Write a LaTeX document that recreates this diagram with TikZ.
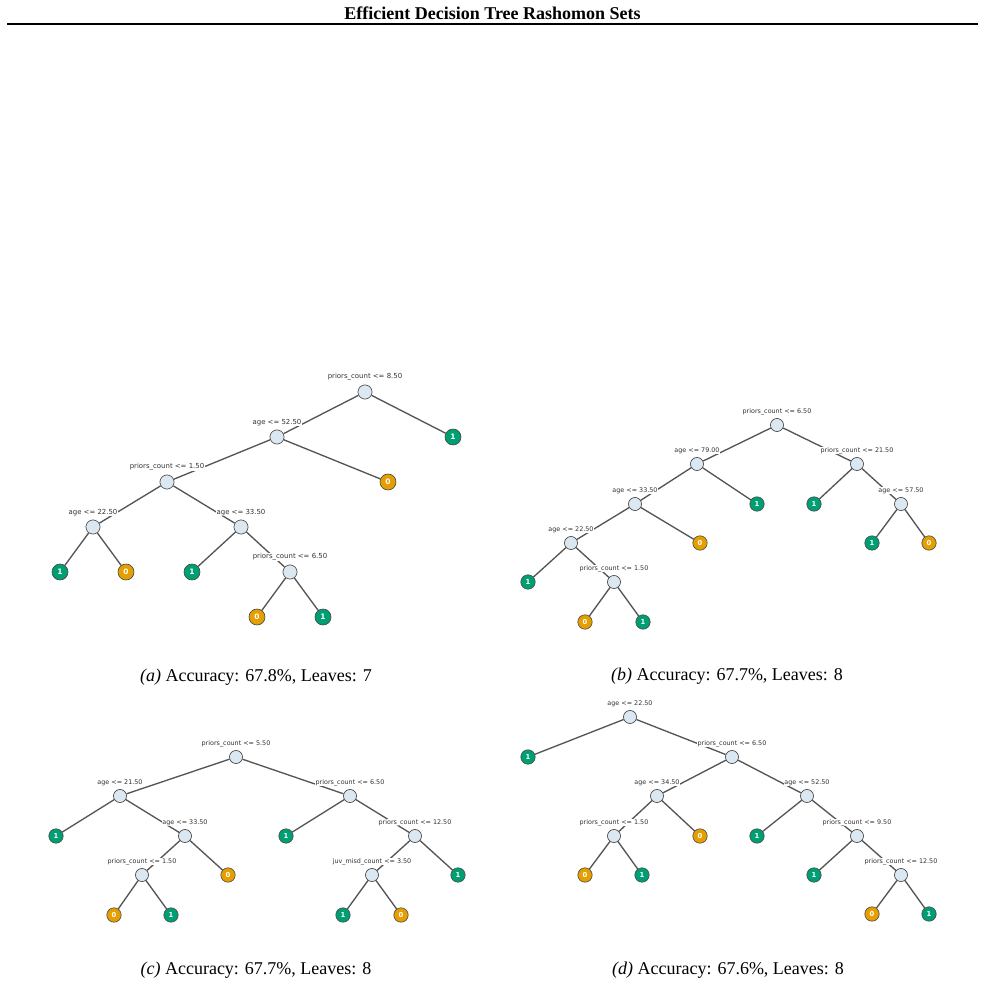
\documentclass[tikz,border=0pt]{standalone}
\usepackage{fontspec}
\setmainfont{Liberation Serif}
\newfontfamily\dejavu{DejaVu Sans}
\usepackage{xcolor}
\usepackage{tikz}
\definecolor{splitfill}{HTML}{DCE8F1}
\definecolor{rim}{HTML}{4A4A4A}
\definecolor{edgegray}{HTML}{555555}
\definecolor{labelgray}{HTML}{333333}
\definecolor{leafgreen}{HTML}{009E73}
\definecolor{leaforange}{HTML}{E69F00}
\pgfdeclarelayer{edges}
\pgfsetlayers{edges,main}
\tikzset{
  fig/.style={line join=round,x=0.75pt,y=-0.75pt},
  edge/.style={draw=edgegray,line width=1pt},
  cond/.style={font=\dejavu\fontsize{4.8}{5.5}\selectfont,text=labelgray,fill=white,inner sep=0.4pt,label distance=1.9pt},
  splitnd/.style={circle,draw=rim,fill=splitfill,line width=0.5pt,inner sep=0pt,minimum size=9.8pt},
  query/.style={splitnd,label={[cond]90:#1}},
  leafnd/.style={circle,draw=rim,line width=0.5pt,inner sep=0pt,minimum size=10.8pt,text=white,font=\dejavu\bfseries\fontsize{5.1}{5.5}\selectfont},
  leafone/.style={leafnd,fill=leafgreen},
  leafzero/.style={leafnd,fill=leaforange},
  caption/.style={font=\fontsize{13.5}{15}\selectfont,anchor=base}
}

\begin{document}
\begin{tikzpicture}[fig]
  \useasboundingbox (0,0) rectangle (985,984);
  \node[font=\bfseries\fontsize{13.5}{15}\selectfont,anchor=base] (title) at (492.5,19.5) {Efficient Decision Tree Rashomon Sets};
  \draw[line width=1.5pt] (7,24.5) -- (978,24.5);

  % (a)
  \begin{scope}[splitnd/.append style={minimum size=10.6pt},leafnd/.append style={minimum size=12pt,font=\dejavu\bfseries\fontsize{5.6}{6}\selectfont},
    cond/.append style={font=\dejavu\fontsize{5.2}{6}\selectfont,label distance=2.4pt}]
    \node[query={priors\_count <= 8.50}] (a1) at (365,392) {};
    \node[query={age <= 52.50}] (a2) at (277,437) {};
    \node[leafone] (a3) at (453,437) {1};
    \node[query={priors\_count <= 1.50}] (a4) at (167,482) {};
    \node[leafzero] (a5) at (388,482) {0};
    \node[query={age <= 22.50}] (a6) at (93,527) {};
    \node[query={age <= 33.50}] (a7) at (241,527) {};
    \node[leafone] (a8) at (60,572) {1};
    \node[leafzero] (a9) at (126,572) {0};
    \node[leafone] (a10) at (192,572) {1};
    \node[query={priors\_count <= 6.50}] (a11) at (290,572) {};
    \node[leafzero] (a12) at (257,617) {0};
    \node[leafone] (a13) at (323,617) {1};
  \end{scope}
  \node[caption] (capa) at (256,681) {\textit{(a)} Accuracy: 67.8\%, Leaves: 7};

  % (b)
  \node[query={priors\_count <= 6.50}] (b1) at (777,425) {};
  \node[query={age <= 79.00}] (b2) at (697,464) {};
  \node[query={priors\_count <= 21.50}] (b3) at (857,464) {};
  \node[query={age <= 33.50}] (b4) at (635,504) {};
  \node[leafone] (b5) at (757,504) {1};
  \node[leafone] (b6) at (814,504) {1};
  \node[query={age <= 57.50}] (b7) at (901,504) {};
  \node[query={age <= 22.50}] (b8) at (571,543) {};
  \node[leafzero] (b9) at (700,543) {0};
  \node[leafone] (b10) at (872,543) {1};
  \node[leafzero] (b11) at (929,543) {0};
  \node[leafone] (b12) at (528,582) {1};
  \node[query={priors\_count <= 1.50}] (b13) at (614,582) {};
  \node[leafzero] (b14) at (585,622) {0};
  \node[leafone] (b15) at (643,622) {1};
  \node[caption] (capb) at (727,680) {\textit{(b)} Accuracy: 67.7\%, Leaves: 8};

  % (c)
  \node[query={priors\_count <= 5.50}] (c1) at (236,757) {};
  \node[query={age <= 21.50}] (c2) at (120,796) {};
  \node[query={priors\_count <= 6.50}] (c3) at (350,796) {};
  \node[leafone] (c4) at (56,836) {1};
  \node[query={age <= 33.50}] (c5) at (185,836) {};
  \node[leafone] (c6) at (286,836) {1};
  \node[query={priors\_count <= 12.50}] (c7) at (415,836) {};
  \node[query={priors\_count <= 1.50}] (c8) at (142,875) {};
  \node[leafzero] (c9) at (228,875) {0};
  \node[query={juv\_misd\_count <= 3.50}] (c10) at (372,875) {};
  \node[leafone] (c11) at (458,875) {1};
  \node[leafzero] (c12) at (114,915) {0};
  \node[leafone] (c13) at (171,915) {1};
  \node[leafone] (c14) at (343,915) {1};
  \node[leafzero] (c15) at (401,915) {0};
  \node[caption] (capc) at (256,974) {\textit{(c)} Accuracy: 67.7\%, Leaves: 8};

  % (d)
  \node[query={age <= 22.50}] (d1) at (630,717) {};
  \node[leafone] (d2) at (528,757) {1};
  \node[query={priors\_count <= 6.50}] (d3) at (732,757) {};
  \node[query={age <= 34.50}] (d4) at (657,796) {};
  \node[query={age <= 52.50}] (d5) at (807,796) {};
  \node[query={priors\_count <= 1.50}] (d6) at (614,836) {};
  \node[leafzero] (d7) at (700,836) {0};
  \node[leafone] (d8) at (757,836) {1};
  \node[query={priors\_count <= 9.50}] (d9) at (857,836) {};
  \node[leafzero] (d10) at (585,875) {0};
  \node[leafone] (d11) at (642,875) {1};
  \node[leafone] (d12) at (814,875) {1};
  \node[query={priors\_count <= 12.50}] (d13) at (901,875) {};
  \node[leafzero] (d14) at (872,914) {0};
  \node[leafone] (d15) at (929,914) {1};
  \node[caption] (capd) at (728,974) {\textit{(d)} Accuracy: 67.6\%, Leaves: 8};

  \begin{pgfonlayer}{edges}
    \foreach \p/\c in {a1/a2,a1/a3,a2/a4,a2/a5,a4/a6,a4/a7,a6/a8,a6/a9,a7/a10,a7/a11,a11/a12,a11/a13,
      b1/b2,b1/b3,b2/b4,b2/b5,b3/b6,b3/b7,b4/b8,b4/b9,b7/b10,b7/b11,b8/b12,b8/b13,b13/b14,b13/b15,
      c1/c2,c1/c3,c2/c4,c2/c5,c3/c6,c3/c7,c5/c8,c5/c9,c7/c10,c7/c11,c8/c12,c8/c13,c10/c14,c10/c15,
      d1/d2,d1/d3,d3/d4,d3/d5,d4/d6,d4/d7,d5/d8,d5/d9,d6/d10,d6/d11,d9/d12,d9/d13,d13/d14,d13/d15}
      \draw[edge] (\p) -- (\c);
  \end{pgfonlayer}
\end{tikzpicture}
\end{document}
